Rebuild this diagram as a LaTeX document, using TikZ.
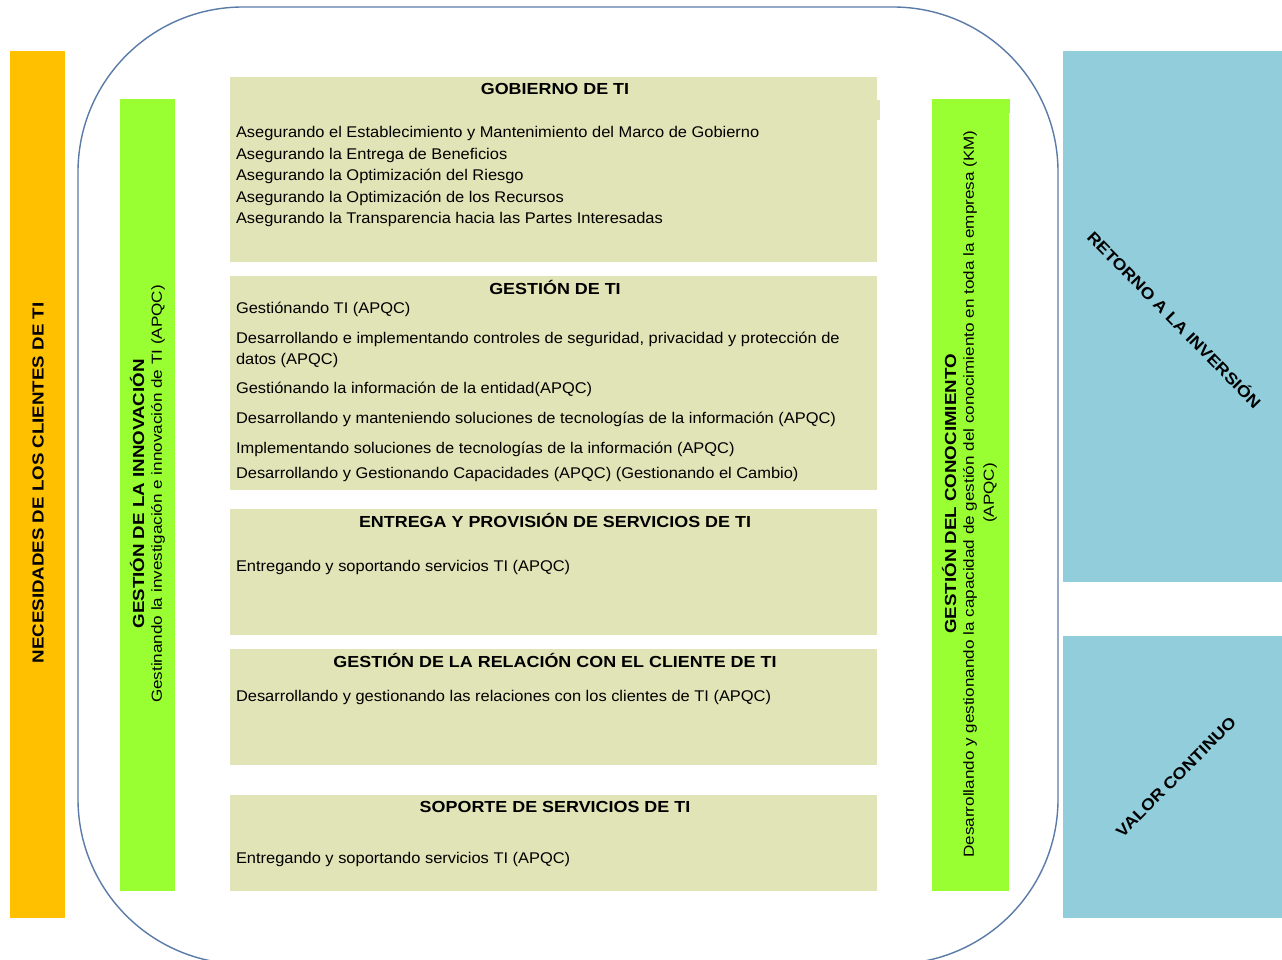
\documentclass[tikz,border=0pt]{standalone}
\usepackage{fontspec}
\setmainfont{Liberation Sans}[FakeStretch=1.06]
\newfontfamily\headfont{Liberation Sans}[FakeStretch=1.12]
\newfontfamily\sidefont{Liberation Sans}[FakeStretch=1.17]
\begin{document}
\begin{tikzpicture}[x=1pt,y=-1pt,
  every node/.style={inner sep=0pt, outer sep=0pt},
  card/.style={fill=cardbg, draw=none},
  head/.style={font=\headfont\fontsize{16}{18}\selectfont\bfseries, anchor=center},
  body/.style={font=\fontsize{15.5}{18}\selectfont, anchor=west},
  sidehead/.style={font=\sidefont\fontsize{16}{18}\selectfont\bfseries, rotate=90, anchor=center},
  sidebody/.style={font=\sidefont\fontsize{14.6}{17}\selectfont, rotate=90, anchor=center},
  diag/.style={font=\headfont\fontsize{16}{18}\selectfont\bfseries, anchor=center}]
\definecolor{orangebar}{HTML}{FFC000}
\definecolor{greenbar}{HTML}{99FF33}
\definecolor{bluebar}{HTML}{92CDDC}
\definecolor{cardbg}{HTML}{E0E4B6}
\definecolor{frame}{HTML}{5A7BA8}

% canvas
\fill[white] (0,0) rectangle (1282,960);
\useasboundingbox (0,0) rectangle (1282,960);

% outer rounded frame
\draw[frame, line width=1.4pt, rounded corners=165pt] (78,7) rectangle (1058,964);

% side bands
\fill[orangebar] (10,51) rectangle (65,918);
\fill[greenbar] (120,99) rectangle (175,891);
\fill[greenbar] (932,99) rectangle (1009,891);
\fill[greenbar] (1007,99) rectangle (1010,113);
\fill[bluebar] (1063,51) rectangle (1282,582);
\fill[bluebar] (1063,636) rectangle (1282,918);

% central cards
\fill[card] (230,77) rectangle (877,262);
\fill[card] (876,100) rectangle (880,120);
\fill[card] (230,276) rectangle (877,490);
\fill[card] (230,509) rectangle (877,635);
\fill[card] (230,649) rectangle (877,765);
\fill[card] (230,795) rectangle (877,891);

% card 1
\node[head] (h1) at (555,89) {GOBIERNO DE TI};
\node[body] (a1) at (236,133) {Asegurando el Establecimiento y Mantenimiento del Marco de Gobierno};
\node[body] (a2) at (236,155) {Asegurando la Entrega de Beneficios};
\node[body] (a3) at (236,176) {Asegurando la Optimización del Riesgo};
\node[body] (a4) at (236,198) {Asegurando la Optimización de los Recursos};
\node[body] (a5) at (236,219) {Asegurando la Transparencia hacia las Partes Interesadas};

% card 2
\node[head] (h2) at (555,287) {GESTIÓN DE TI};
\node[body] (b1) at (236,309) {Gestiónando TI (APQC)};
\node[body] (b2) at (236,339) {Desarrollando e implementando controles de seguridad, privacidad y protección de};
\node[body] (b3) at (236,360) {datos (APQC)};
\node[body] (b4) at (236,389) {Gestiónando la información de la entidad(APQC)};
\node[body] (b5) at (236,419) {Desarrollando y manteniendo soluciones de tecnologías de la información (APQC)};
\node[body] (b6) at (236,449) {Implementando soluciones de tecnologías de la información (APQC)};
\node[body] (b7) at (236,474) {Desarrollando y Gestionando Capacidades (APQC) (Gestionando el Cambio)};

% card 3
\node[head] (h3) at (555,520) {ENTREGA Y PROVISIÓN DE SERVICIOS DE TI};
\node[body] (c1) at (236,567) {Entregando y soportando servicios TI (APQC)};

% card 4
\node[head] (h4) at (555,660) {GESTIÓN DE LA RELACIÓN CON EL CLIENTE DE TI};
\node[body] (d1) at (236,697) {Desarrollando y gestionando las relaciones con los clientes de TI (APQC)};

% card 5
\node[head] (h5) at (555,807) {SOPORTE DE SERVICIOS DE TI};
\node[body] (e1) at (236,859) {Entregando y soportando servicios TI (APQC)};

% orange band
\node[sidehead] (n1) at (38,483) {NECESIDADES DE LOS CLIENTES DE TI};

% left green band
\node[sidehead] (i1) at (137,494) {GESTIÓN DE LA INNOVACIÓN};
\node[sidebody] (i2) at (158,494) {Gestinando la investigación e innovación de TI (APQC)};

% right green band
\node[sidehead] (k1) at (949,494) {GESTIÓN DEL CONOCIMIENTO};
\node[sidebody] (k2) at (970,494) {Desarrollando y gestionando la capacidad de gestión del conocimiento en toda la empresa (KM)};
\node[sidebody] (k3) at (990,493) {(APQC)};

% blue bands
\node[diag, rotate=-45.5] (r1) at (1175,319) {RETORNO A LA INVERSIÓN};
\node[diag, rotate=45] (v1) at (1176,777) {VALOR CONTINUO};
\end{tikzpicture}
\end{document}
